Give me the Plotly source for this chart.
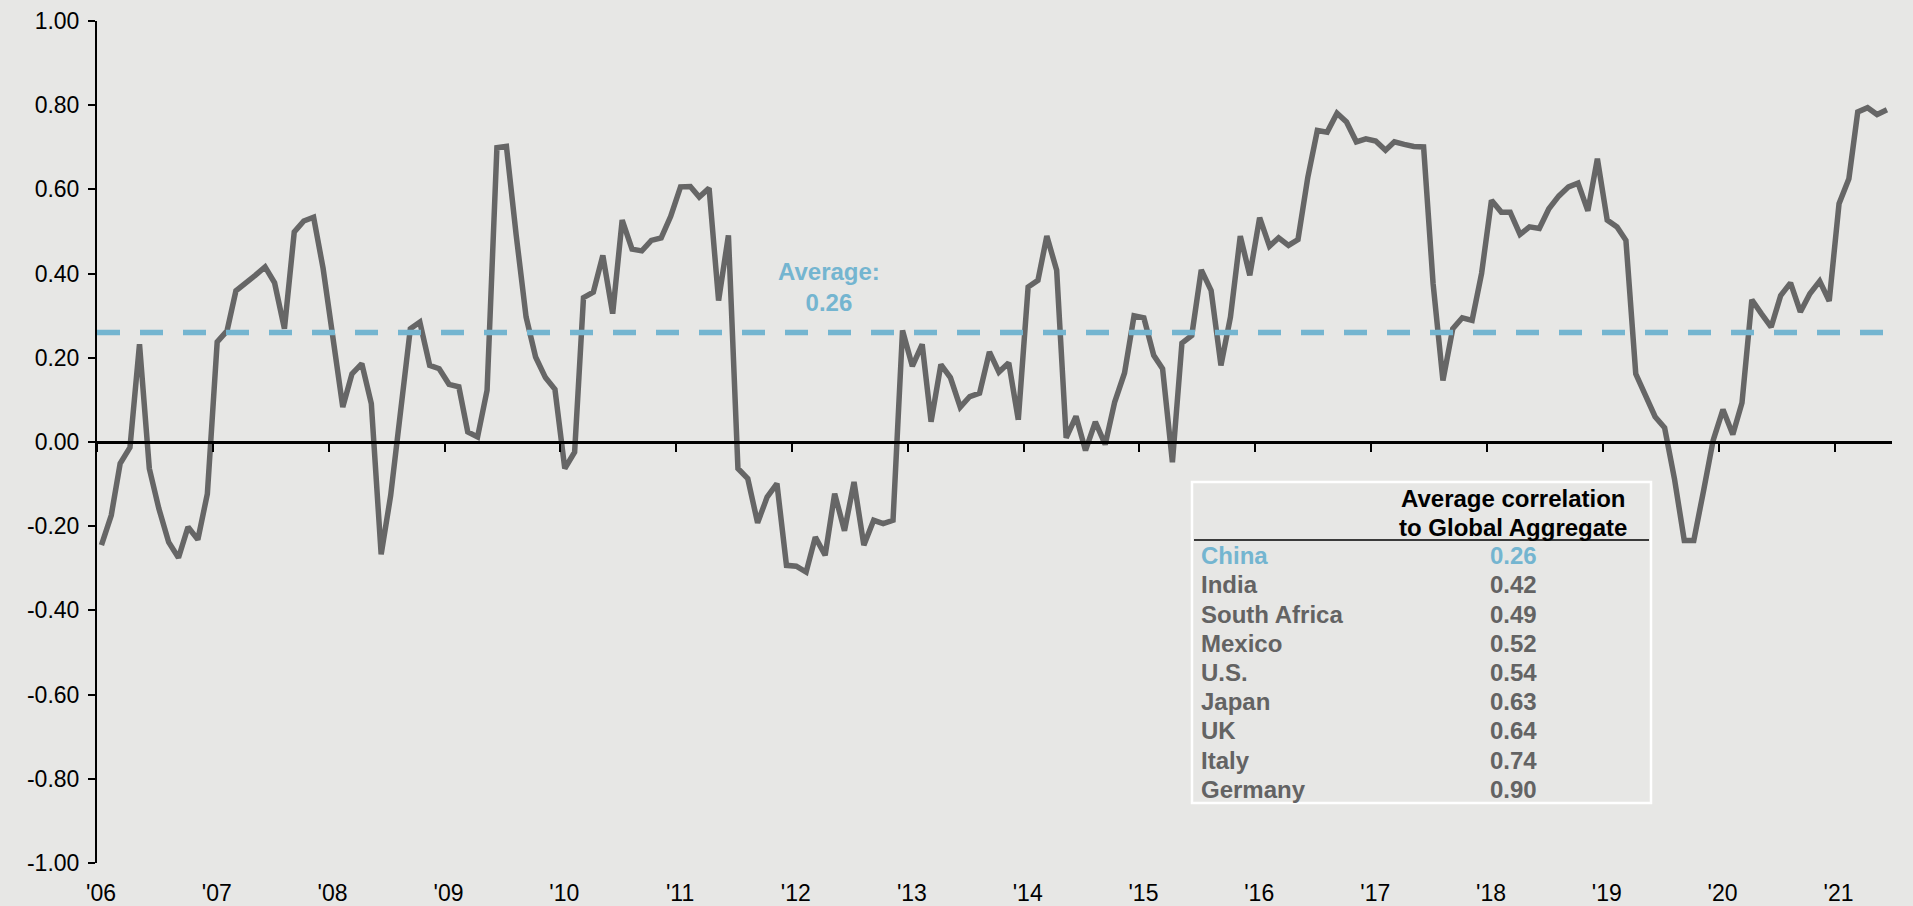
import pandas as pd
import plotly.graph_objects as go

# Rolling correlation of China bonds to the Global Aggregate, monthly from Jan 2006
CORRELATION = [
    -0.245, -0.174, -0.051, -0.013, 0.232, -0.063, -0.158, -0.238, -0.275, -0.202, -0.232, -0.123,  # 2006
    0.238, 0.264, 0.359, 0.380, 0.396, 0.416, 0.378, 0.269, 0.499, 0.525, 0.534, 0.412,  # 2007
    0.256, 0.083, 0.162, 0.186, 0.091, -0.267, -0.127, 0.083, 0.269, 0.285, 0.182, 0.174,  # 2008
    0.137, 0.131, 0.024, 0.012, 0.123, 0.699, 0.702, 0.490, 0.297, 0.202, 0.153, 0.125,  # 2009
    -0.063, -0.024, 0.343, 0.356, 0.443, 0.305, 0.527, 0.458, 0.454, 0.479, 0.485, 0.536,  # 2010
    0.606, 0.607, 0.582, 0.603, 0.336, 0.491, -0.063, -0.087, -0.192, -0.131, -0.099, -0.293,  # 2011
    -0.295, -0.309, -0.226, -0.269, -0.123, -0.211, -0.095, -0.245, -0.186, -0.194, -0.186, 0.265,  # 2012
    0.180, 0.232, 0.048, 0.184, 0.153, 0.083, 0.108, 0.116, 0.214, 0.166, 0.188, 0.053,  # 2013
    0.368, 0.384, 0.489, 0.408, 0.010, 0.061, -0.020, 0.048, -0.006, 0.095, 0.164, 0.300,  # 2014
    0.295, 0.206, 0.174, -0.048, 0.235, 0.253, 0.409, 0.360, 0.182, 0.297, 0.489, 0.396,  # 2015
    0.533, 0.465, 0.485, 0.467, 0.481, 0.629, 0.740, 0.736, 0.781, 0.760, 0.713, 0.720,  # 2016
    0.715, 0.693, 0.713, 0.707, 0.702, 0.701, 0.376, 0.146, 0.269, 0.295, 0.289, 0.401,  # 2017
    0.574, 0.546, 0.546, 0.493, 0.511, 0.507, 0.554, 0.584, 0.606, 0.615, 0.549, 0.673,  # 2018
    0.527, 0.511, 0.479, 0.162, 0.111, 0.060, 0.034, -0.087, -0.234, -0.234, -0.115, 0.004,  # 2019
    0.077, 0.018, 0.093, 0.338, 0.305, 0.273, 0.348, 0.378, 0.309, 0.352, 0.382, 0.335,  # 2020
    0.566, 0.625, 0.784, 0.794, 0.778, 0.789,  # 2021
]
AVERAGE = 0.26

YEARS = list(range(2006, 2022))
YEAR_LABELS = ["'06", "'07", "'08", "'09", "'10", "'11", "'12", "'13",
               "'14", "'15", "'16", "'17", "'18", "'19", "'20", "'21"]
Y_TICKS = [-1.0, -0.8, -0.6, -0.4, -0.2, 0.0, 0.2, 0.4, 0.6, 0.8, 1.0]
Y_TICK_LABELS = ["-1.00", "-0.80", "-0.60", "-0.40", "-0.20", "0.00",
                 "0.20", "0.40", "0.60", "0.80", "1.00"]

COUNTRIES = ["China", "India", "South Africa", "Mexico", "U.S.", "Japan", "UK", "Italy", "Germany"]
AVG_CORR = [0.26, 0.42, 0.49, 0.52, 0.54, 0.63, 0.64, 0.74, 0.90]
TABLE_HEADER = ["Average correlation", "to Global Aggregate"]

# colours and fonts
BG = "#E7E7E5"
LINE_GREY = "#666666"
BLUE = "#74B5D0"
TEXT_GREY = "#636363"
FONT = "Arial, Liberation Sans, sans-serif"

W, H = 1913, 906
M_L, M_R, M_T, M_B = 97, 21, 21, 43
PLOT_W = W - M_L - M_R
PLOT_H = H - M_T - M_B


def px_x(px):
    return (px - M_L) / PLOT_W


def px_y(py):
    return (H - M_B - py) / PLOT_H


months = pd.date_range("2006-01-01", periods=len(CORRELATION), freq="MS") + pd.Timedelta(days=14)
x_start = pd.Timestamp(f"{YEARS[0]}-01-01")
x_end = pd.Timestamp(f"{YEARS[-1]}-07-01")
year_ticks = [pd.Timestamp(f"{y}-01-01") for y in YEARS]

fig = go.Figure()

fig.add_trace(go.Scatter(
    x=months, y=CORRELATION, mode="lines",
    line=dict(color=LINE_GREY, width=5.5),
    hoverinfo="skip", showlegend=False,
))

# dashed average line, on the overlaid axis that also draws the zero line
fig.add_trace(go.Scatter(
    x=[x_start, x_end], y=[AVERAGE, AVERAGE], mode="lines",
    line=dict(color=BLUE, width=5.5, dash="23px,20px"),
    xaxis="x2", yaxis="y",
    hoverinfo="skip", showlegend=False,
))

axis_font = dict(family=FONT, size=23, color="#000000")

fig.update_layout(
    width=W, height=H,
    margin=dict(l=M_L, r=M_R, t=M_T, b=M_B, pad=0),
    paper_bgcolor=BG, plot_bgcolor=BG,
    xaxis=dict(
        type="date", range=[x_start, x_end], automargin=False,
        tickvals=year_ticks, ticktext=YEAR_LABELS,
        showline=False, showgrid=False, zeroline=False, ticks="",
        tickfont=axis_font, ticklabelstandoff=14, ticklabelshift=4,
    ),
    xaxis2=dict(
        type="date", range=[x_start, x_end], overlaying="x", automargin=False,
        anchor="free", position=0.5, side="bottom",
        tickvals=year_ticks, showticklabels=False,
        showline=True, linecolor="#000000", linewidth=2.5,
        ticks="outside", ticklen=8, tickwidth=2, tickcolor="#000000",
        showgrid=False, zeroline=False,
    ),
    yaxis=dict(
        range=[-1, 1], tickvals=Y_TICKS, ticktext=Y_TICK_LABELS, automargin=False,
        showline=True, linecolor="#000000", linewidth=2,
        ticks="outside", ticklen=7, tickwidth=2, tickcolor="#000000",
        showgrid=False, zeroline=False,
        tickfont=axis_font, ticklabelstandoff=4,
    ),
)

# "Average" call-out
fig.add_annotation(
    x=px_x(829), y=px_y(287), xref="paper", yref="paper",
    text="<b>Average:</b><br><b>%.2f</b>" % AVERAGE,
    showarrow=False, xanchor="center", yanchor="middle",
    font=dict(family=FONT, size=24, color=BLUE),
)

# correlation table box
fig.add_shape(type="rect", xref="paper", yref="paper",
              x0=px_x(1192), x1=px_x(1651), y0=px_y(803), y1=px_y(482),
              line=dict(color="#FFFFFF", width=2.5), fillcolor="rgba(0,0,0,0)")
fig.add_shape(type="line", xref="paper", yref="paper",
              x0=px_x(1194), x1=px_x(1649), y0=px_y(540), y1=px_y(540),
              line=dict(color="#000000", width=1.5))

for k, line in enumerate(TABLE_HEADER):
    fig.add_annotation(
        x=px_x(1513), y=px_y(498.5 + k * 28.5), xref="paper", yref="paper",
        text="<b>%s</b>" % line, showarrow=False,
        xanchor="center", yanchor="middle",
        font=dict(family=FONT, size=24, color="#000000"),
    )

ROW_TOP, ROW_STEP = 555.7, 29.2
for k, (name, val) in enumerate(zip(COUNTRIES, AVG_CORR)):
    colour = BLUE if k == 0 else TEXT_GREY
    yy = px_y(ROW_TOP + k * ROW_STEP)
    fig.add_annotation(
        x=px_x(1199), y=yy, xref="paper", yref="paper",
        text="<b>%s</b>" % name, showarrow=False,
        xanchor="left", yanchor="middle",
        font=dict(family=FONT, size=24, color=colour),
    )
    fig.add_annotation(
        x=px_x(1513), y=yy, xref="paper", yref="paper",
        text="<b>%.2f</b>" % val, showarrow=False,
        xanchor="center", yanchor="middle",
        font=dict(family=FONT, size=24, color=colour),
    )

fig.write_html("out.html")
